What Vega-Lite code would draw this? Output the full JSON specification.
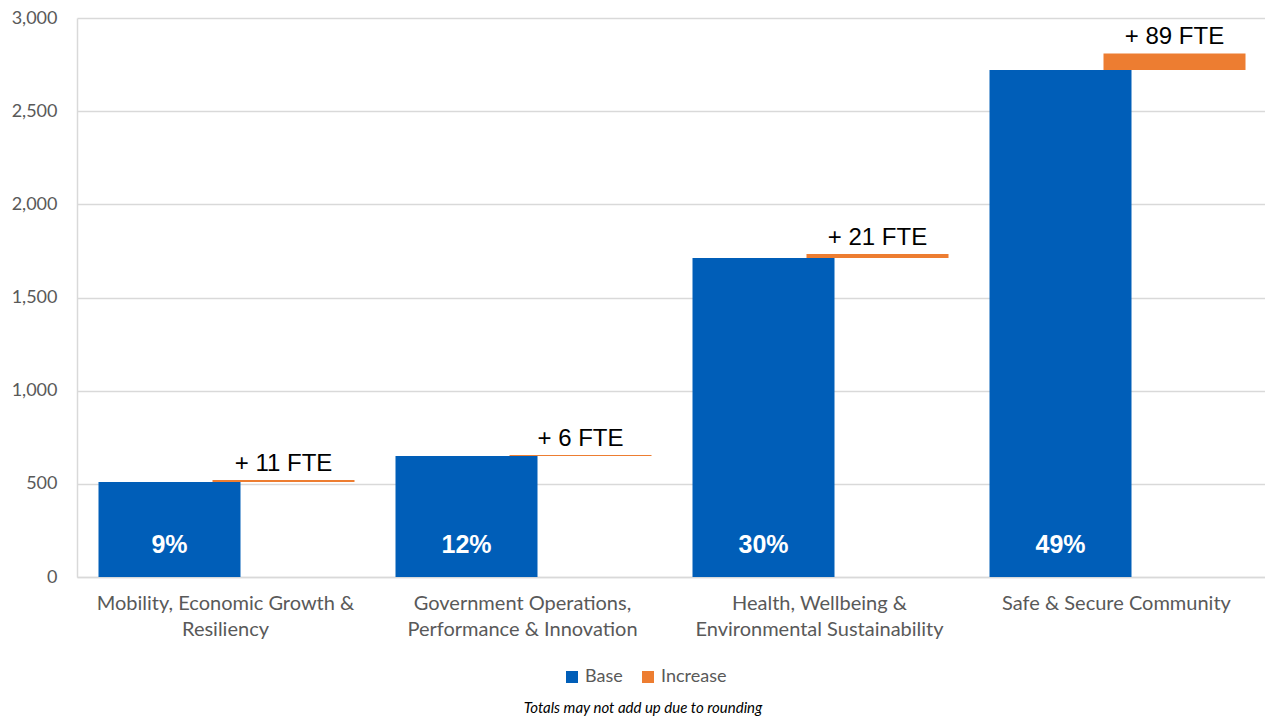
{
  "$schema": "https://vega.github.io/schema/vega-lite/v6.json",
  "width": 1188,
  "height": 559,
  "autosize": {"type": "none"},
  "padding": {"left": 77, "top": 18, "right": 0, "bottom": 142},
  "background": "white",
  "title": {
    "text": "Totals may not add up due to rounding",
    "orient": "bottom",
    "anchor": "middle",
    "dx": -28,
    "offset": 15,
    "font": "Lato",
    "fontSize": 15,
    "fontStyle": "italic",
    "fontWeight": "normal",
    "color": "#000000"
  },
  "data": {
    "values": [
      {"cat": "Mobility, Economic Growth &|Resiliency", "base": 510, "total": 521, "inc": "+ 11 FTE", "pct": "9%"},
      {"cat": "Government Operations,|Performance & Innovation", "base": 649, "total": 655, "inc": "+ 6 FTE", "pct": "12%"},
      {"cat": "Health, Wellbeing &|Environmental Sustainability", "base": 1712, "total": 1733, "inc": "+ 21 FTE", "pct": "30%"},
      {"cat": "Safe & Secure Community", "base": 2721, "total": 2810, "inc": "+ 89 FTE", "pct": "49%"}
    ]
  },
  "encoding": {
    "x": {
      "field": "cat",
      "type": "nominal",
      "sort": null,
      "scale": {"paddingInner": 0, "paddingOuter": 0},
      "axis": {
        "title": null,
        "labelAngle": 0,
        "labelExpr": "split(datum.label, '|')",
        "labelFont": "Lato",
        "labelFontSize": 20,
        "labelColor": "#595959",
        "labelLineHeight": 26,
        "labelLimit": 400,
        "labelPadding": 16,
        "ticks": false,
        "domainColor": "#d9d9d9",
        "domainWidth": 1.5,
        "grid": false
      }
    }
  },
  "layer": [
    {
      "mark": {"type": "bar", "width": 142, "xOffset": -56},
      "encoding": {
        "y": {
          "field": "base",
          "type": "quantitative",
          "scale": {"domain": [0, 3000]},
          "axis": {
            "title": null,
            "values": [0, 500, 1000, 1500, 2000, 2500, 3000],
            "format": ",.0f",
            "labelFont": "Lato",
            "labelFontSize": 18,
            "labelColor": "#595959",
            "labelPadding": 20,
            "ticks": false,
            "domain": true,
            "domainColor": "#d9d9d9",
            "domainWidth": 1.5,
            "gridColor": "#d9d9d9",
            "gridWidth": 1.5
          }
        },
        "color": {
          "datum": "Base",
          "scale": {"domain": ["Base", "Increase"], "range": ["#005EB8", "#ED7D31"]},
          "legend": {
            "title": null,
            "orient": "none",
            "legendX": 486,
            "legendY": 650,
            "direction": "horizontal",
            "symbolType": "square",
            "symbolSize": 144,
            "symbolStrokeWidth": 0,
            "labelFont": "Lato",
            "labelFontSize": 18,
            "labelColor": "#595959",
            "columnPadding": 16,
            "labelOffset": 4,
            "padding": 0
          }
        }
      }
    },
    {
      "mark": {"type": "bar", "width": 142, "xOffset": 58},
      "encoding": {
        "y": {"field": "base", "type": "quantitative"},
        "y2": {"field": "total"},
        "color": {"datum": "Increase"}
      }
    },
    {
      "mark": {"type": "text", "xOffset": 58, "dy": -9, "baseline": "alphabetic", "font": "Liberation Sans", "fontSize": 24, "color": "#000000"},
      "encoding": {
        "y": {"field": "total", "type": "quantitative"},
        "text": {"field": "inc"}
      }
    },
    {
      "mark": {"type": "text", "xOffset": -56, "dy": -24, "baseline": "alphabetic", "font": "Liberation Sans", "fontSize": 25, "fontWeight": "bold", "color": "#ffffff"},
      "encoding": {
        "y": {"datum": 0, "type": "quantitative"},
        "text": {"field": "pct"}
      }
    }
  ],
  "config": {
    "view": {"stroke": null}
  }
}
